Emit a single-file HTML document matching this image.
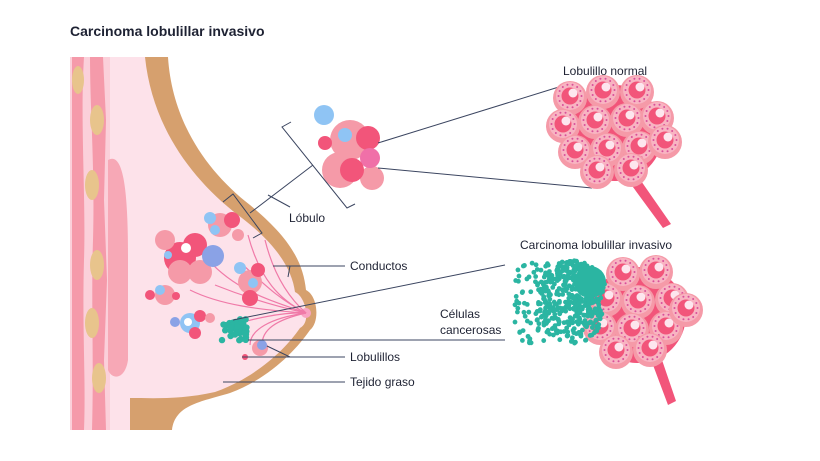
<!DOCTYPE html>
<html><head><meta charset="utf-8"><style>
html,body{margin:0;padding:0;background:#fff}
svg{display:block}
text{font-family:"Liberation Sans",sans-serif;fill:#1e2233}
</style></head><body>
<svg id="s" width="820" height="461" viewBox="0 0 820 461" xmlns="http://www.w3.org/2000/svg">
<text x="70" y="36" font-size="14" font-weight="bold">Carcinoma lobulillar invasivo</text>
<path d="M143,57 L168,57 C172,120 205,170 250,205 C290,238 303,262 306,290 C318,296 320,322 310,330 C296,350 270,378 230,393 C200,402 175,405 172,430 L130,430 L130,57 Z" fill="#d6a06e"/>
<path d="M108,57 L145,57 C152,125 190,178 238,215 C278,245 292,270 295,292 C305,296 312,322 300,328 C285,350 255,378 215,392 C180,400 150,398 130,398 L130,430 L108,430 Z" fill="#fde2ea"/>
<rect x="70" y="57" width="40" height="373" fill="#fbd0da"/>
<path d="M72,57 L84,57 C80,120 86,200 84,260 C82,330 86,380 84,430 L72,430 Z" fill="#f59aaa"/>
<path d="M90,57 L103,57 L106,120 L104,200 L107,280 L104,360 L106,430 L92,430 C94,360 91,300 93,240 C95,170 90,110 90,57Z" fill="#f59aaa"/>
<path d="M108,160 C125,150 128,200 128,260 L128,360 C125,380 112,380 108,370 Z" fill="#f7a8b6"/>
<g fill="#e8c48c">
<ellipse cx="78" cy="80" rx="6" ry="14"/><ellipse cx="97" cy="120" rx="7" ry="15"/><ellipse cx="92" cy="185" rx="7" ry="15"/><ellipse cx="97" cy="265" rx="7" ry="15"/><ellipse cx="92" cy="323" rx="7" ry="15"/><ellipse cx="99" cy="378" rx="7" ry="15"/>
</g>
<circle cx="306" cy="313" r="5" fill="#f9a4c4"/>
<g stroke="#f07aa8" stroke-width="1.2" fill="none">
<path d="M306,313 C280,300 260,280 248,235"/><path d="M306,313 C280,300 265,285 243,265"/><path d="M306,313 C270,305 240,295 215,285"/>
<path d="M306,313 C270,300 230,290 200,250"/><path d="M306,313 C260,310 220,305 190,290"/><path d="M306,313 C280,312 250,320 240,323"/>
<path d="M306,313 C270,318 250,330 250,345"/><path d="M306,313 C275,320 262,330 262,345"/><path d="M306,313 C280,290 270,260 265,240"/>
</g>
<g id="lobs"></g>
<g stroke="#3b4560" stroke-width="1" fill="none">
<polyline points="291,122 282,127 347,208 355,204"/>
<polyline points="223,202 233,194 262,233 253,238"/>
<line x1="313" y1="165" x2="250" y2="213"/>
<polyline points="268,195 290,207"/>
<line x1="378" y1="143" x2="562" y2="86"/>
<line x1="378" y1="168" x2="592" y2="188"/>
<polyline points="273,266 290,266 288,277"/>
<line x1="290" y1="266" x2="345" y2="266"/>
<line x1="233" y1="320" x2="505" y2="265"/>
<line x1="248" y1="340" x2="505" y2="340"/>
<polyline points="267,346 290,357 345,357"/>
<line x1="242" y1="357" x2="290" y2="357"/>
<line x1="223" y1="382" x2="345" y2="382"/>
</g>
<text x="289" y="222" font-size="12">Lóbulo</text>
<text x="350" y="270" font-size="12">Conductos</text>
<text x="440" y="318" font-size="12">Células</text>
<text x="440" y="334" font-size="12">cancerosas</text>
<text x="350" y="361" font-size="12">Lobulillos</text>
<text x="350" y="386" font-size="12">Tejido graso</text>
<text x="563" y="75" font-size="12">Lobulillo normal</text>
<text x="520" y="249" font-size="12">Carcinoma lobulillar invasivo</text>
<g id="big"></g>
</svg>
<script>
const NS="http://www.w3.org/2000/svg";
let seed=7;function rnd(){seed=(seed*16807)%2147483647;return seed/2147483647;}
function c(g,x,y,r,f){const e=document.createElementNS(NS,"circle");e.setAttribute("cx",x);e.setAttribute("cy",y);e.setAttribute("r",r);e.setAttribute("fill",f);g.appendChild(e);return e;}
const L=document.getElementById("lobs");
const P="#f59aa8",R="#f2557a",B="#8fc4f4",V="#8aa2e6",K="#f070a8";
[
[350,140,20,P],[340,170,18,P],[372,178,12,P],[324,115,10,B],[368,138,12,R],[370,158,10,K],[352,170,12,R],[325,143,7,R],[345,135,7,B],
[180,258,16,R],[195,245,12,R],[165,240,10,P],[200,272,12,P],[180,272,12,P],[213,256,11,V],[186,248,5,"#fff"],[168,255,4,B],
[220,225,12,P],[210,218,6,B],[232,220,8,R],[238,235,6,P],[215,230,5,B],
[250,282,12,P],[250,298,8,R],[240,268,6,B],[258,270,7,R],[253,283,5,B],
[165,295,10,P],[160,290,5,B],[150,295,5,R],[176,296,4,R],
[190,323,10,B],[200,316,6,R],[175,322,5,V],[195,333,6,R],[188,322,4,"#fff"],[210,318,5,P],
[260,348,8,P],[262,345,5,V],[245,357,3,R]
].forEach(a=>c(L,...a));
for(let i=0;i<40;i++){c(L,222+rnd()*26,318+rnd()*24,3.2,"#2bb5a2");}
const G=document.getElementById("big");
function cluster(cx,cy,pos,sx,sy){
 const p=document.createElementNS(NS,"path");
 p.setAttribute("d",`M${cx+10},${cy+45} L${cx+15},${cy+55} L${cx+sx},${cy+sy} L${cx+sx+8},${cy+sy-4} L${cx+24},${cy+50} L${cx+30},${cy+40} Z`);
 p.setAttribute("fill","#f2557a");G.appendChild(p);
 c(G,cx,cy+5,48,"#f2557a");
 pos.forEach(([x,y])=>{x+=cx;y+=cy;c(G,x,y,17,"#f59aa8");c(G,x,y-2,14,"#f8b4c2");
  for(let k=0;k<14;k++){const a=k/14*6.28;c(G,x+Math.cos(a)*11.5,y-2+Math.sin(a)*11.5,1,"#d94f9a");}
  c(G,x,y-2,8.5,"#f2557a");c(G,x+3,y-5,4.5,"#fde6ee");});
}
cluster(615,128,[[-45,-30],[-12,-36],[22,-36],[-52,-2],[-20,-6],[12,-8],[42,-10],[-40,24],[-8,22],[24,20],[50,14],[-18,44],[16,42]],48,100);
cluster(638,310,[[-15,-36],[18,-38],[-32,-10],[0,-8],[34,-10],[-38,18],[-6,20],[28,18],[48,0],[-22,42],[12,40]],30,95);
for(let i=0;i<420;i++){const a=rnd()*6.28,r=Math.sqrt(rnd());const x=572+Math.cos(a)*r*36,y=302+Math.sin(a)*r*42;
 if(x<603||y<290)c(G,x,y,2.4,"#2bb5a2");}
c(G,590,282,16,"#2bb5a2");
for(let i=0;i<70;i++){const x=515+rnd()*35,y=262+rnd()*82;c(G,x,y,2.4,"#2bb5a2");}
</script>
</body></html>
